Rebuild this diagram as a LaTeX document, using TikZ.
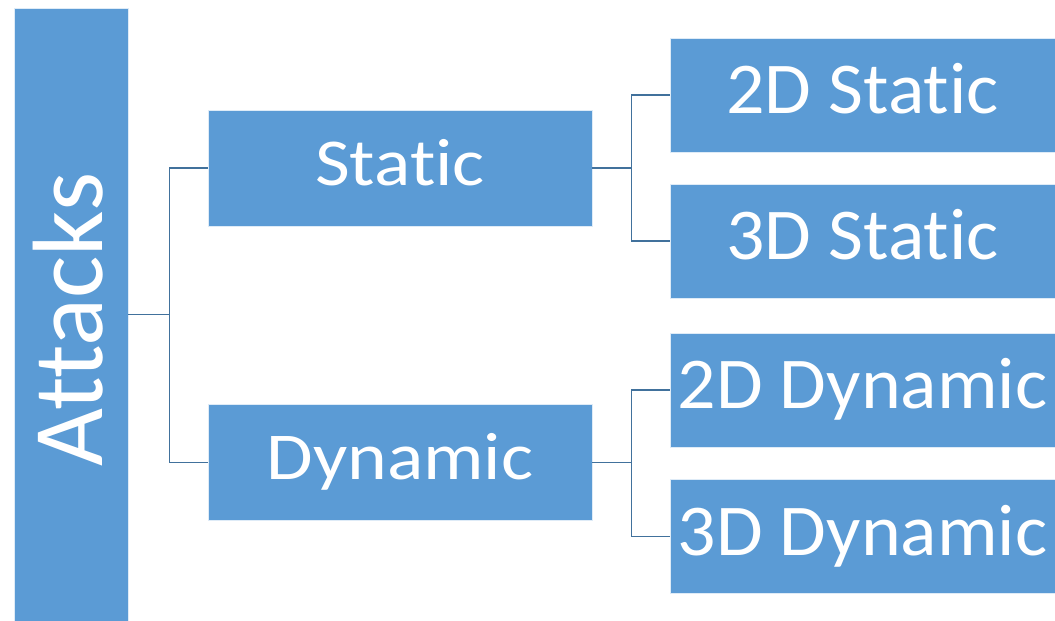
\documentclass[tikz,border=0pt]{standalone}
\usepackage{fontspec}
\setmainfont{Carlito}[RawFeature={-liga;-clig;-calt;-dlig}]
\definecolor{boxblue}{HTML}{5B9BD5}
\definecolor{linkblue}{HTML}{41719C}
\begin{document}
\begin{tikzpicture}[x=1pt,y=-1pt,
  box/.style={draw=white!80!boxblue,line width=0.8pt,fill=boxblue,text=white,
    inner sep=0pt,anchor=center},
  midbox/.style={box,minimum width=384pt,minimum height=116pt,
    text height=34pt,text depth=0pt,font=\fontsize{67}{67}\selectfont},
  leafbox/.style={box,minimum width=385pt,minimum height=114pt,
    text height=37pt,text depth=0pt,font=\fontsize{73}{73}\selectfont},
  link/.style={draw=linkblue,line width=1.8pt}]
\useasboundingbox (0,0) rectangle (1055,621);
% root, written upwards
\node[box,rotate=90,minimum width=613pt,minimum height=114pt,
  text height=62pt,text depth=0pt,font=\fontsize{100}{100}\selectfont]
  (attacks) at (71,314.5) {\hspace*{-10pt}Attacks};
% second level
\node[midbox] (static) at (400,168) {\scalebox{1.13}[1]{Static}};
\node[midbox] (dynamic) at (400,462.5) {\scalebox{1.13}[1]{Dynamic}};
% leaves
\node[leafbox] (s2d) at (862.5,95) {\scalebox{1.04}[1]{2D Static}};
\node[leafbox] (s3d) at (862.5,241) {\scalebox{1.04}[1]{3D Static}};
\node[leafbox] (d2d) at (862.5,390) {\scalebox{1.04}[1]{2D Dynamic}};
\node[leafbox] (d3d) at (862.5,536.5) {\scalebox{1.04}[1]{3D Dynamic}};
% elbow connectors
\draw[link] (attacks.south) -- ++(41,0) coordinate (fork0);
\draw[link] (static.west) -| (fork0) |- (dynamic.west);
\draw[link] (static.east) -- ++(39,0) coordinate (fork1);
\draw[link] (s2d.west) -| (fork1) |- (s3d.west);
\draw[link] (dynamic.east) -- ++(39,0) coordinate (fork2);
\draw[link] (d2d.west) -| (fork2) |- (d3d.west);
\end{tikzpicture}
\end{document}
